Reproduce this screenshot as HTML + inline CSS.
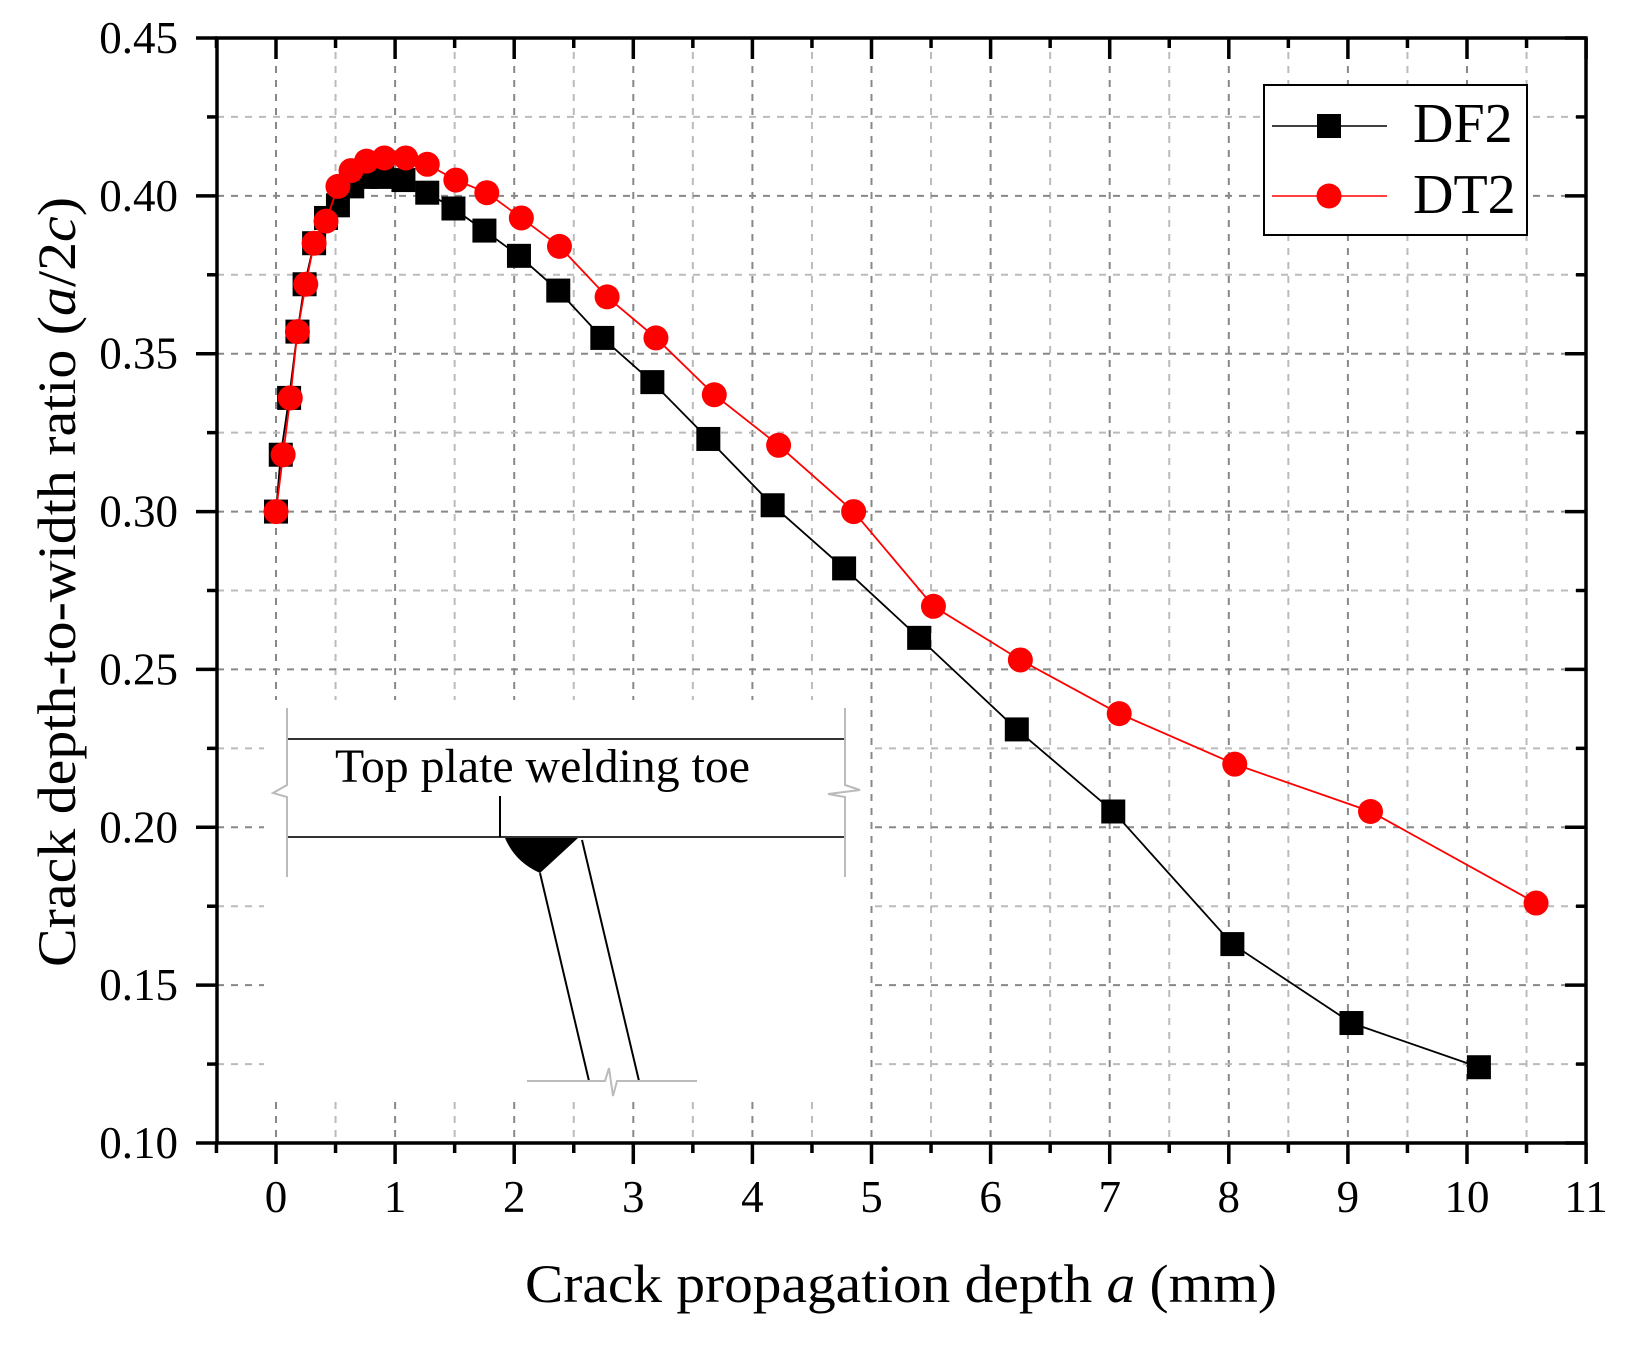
<!DOCTYPE html>
<html><head><meta charset="utf-8"><style>
html,body{margin:0;padding:0;background:#fff;}
svg{display:block;font-family:"Liberation Serif",serif;}
</style></head><body>
<svg id="chart" width="1630" height="1345" viewBox="0 0 1630 1345" xmlns="http://www.w3.org/2000/svg">
<g id="grid"></g>
<g id="inset">
  <rect x="264" y="700" width="606" height="397" fill="#fff"/>
  <line x1="287" y1="739" x2="845" y2="739" stroke="#333" stroke-width="2"/>
  <line x1="287" y1="837" x2="845" y2="837" stroke="#333" stroke-width="2"/>
  <polyline points="287,708 287,785 273,793 287,797 287,877" fill="none" stroke="#bbb" stroke-width="2"/>
  <polyline points="845,708 845,785 860,790 828,794 845,797 845,877" fill="none" stroke="#bbb" stroke-width="2"/>
  <text x="335" y="782" font-size="48" textLength="415" lengthAdjust="spacingAndGlyphs" fill="#000">Top plate welding toe</text>
  <line x1="500" y1="796" x2="500" y2="837" stroke="#000" stroke-width="2"/>
  <path d="M505,838 L578,838 L540,873 Q515,862 505,838 Z" fill="#000"/>
  <line x1="540" y1="873" x2="589" y2="1081" stroke="#000" stroke-width="2"/>
  <line x1="582" y1="840" x2="639" y2="1081" stroke="#000" stroke-width="2"/>
  <polyline points="527,1081 605,1081 609,1068 613,1096 617,1081 697,1081" fill="none" stroke="#bbb" stroke-width="2"/>
</g>
<g id="series"></g>
<g id="axes"></g>
<g id="legend">
  <rect x="1264" y="85" width="263" height="150" fill="#fff" stroke="#000" stroke-width="2"/>
  <line x1="1272" y1="126" x2="1387" y2="126" stroke="#000" stroke-width="1.5"/>
  <rect x="1317" y="114" width="24" height="24" fill="#000"/>
  <text x="1413" y="142" font-size="56" fill="#000">DF2</text>
  <line x1="1272" y1="196" x2="1387" y2="196" stroke="#f00" stroke-width="1.5"/>
  <circle cx="1329" cy="196" r="12.5" fill="#f00"/>
  <text x="1413" y="213" font-size="56" fill="#000">DT2</text>
</g>
<text x="901" y="1302" font-size="54" text-anchor="middle" textLength="752" lengthAdjust="spacingAndGlyphs">Crack propagation depth <tspan font-style="italic">a</tspan> (mm)</text>
<text transform="translate(75,582) rotate(-90)" font-size="54" text-anchor="middle" textLength="770" lengthAdjust="spacingAndGlyphs">Crack depth-to-width ratio (<tspan font-style="italic">a</tspan>/2<tspan font-style="italic">c</tspan>)</text>
</svg>
<script>
const xTicks = [0,1,2,3,4,5,6,7,8,9,10,11];
const yTicks = [0.10,0.15,0.20,0.25,0.30,0.35,0.40,0.45];
const yTickLabels = ["0.10","0.15","0.20","0.25","0.30","0.35","0.40","0.45"];
const df2X = [0,0.04,0.11,0.18,0.24,0.32,0.42,0.52,0.64,0.76,0.89,1.07,1.27,1.49,1.75,2.04,2.37,2.74,3.16,3.63,4.17,4.77,5.40,6.22,7.03,8.03,9.03,10.10];
const df2Y = [0.300,0.318,0.336,0.357,0.372,0.385,0.393,0.397,0.403,0.406,0.406,0.405,0.401,0.396,0.389,0.381,0.370,0.355,0.341,0.323,0.302,0.282,0.260,0.231,0.205,0.163,0.138,0.124];
const dt2X = [0,0.06,0.12,0.18,0.25,0.32,0.42,0.52,0.63,0.76,0.91,1.09,1.27,1.51,1.77,2.06,2.38,2.78,3.19,3.68,4.22,4.85,5.52,6.25,7.08,8.05,9.19,10.58];
const dt2Y = [0.300,0.318,0.336,0.357,0.372,0.385,0.392,0.403,0.408,0.411,0.412,0.412,0.410,0.405,0.401,0.393,0.384,0.368,0.355,0.337,0.321,0.300,0.270,0.253,0.236,0.220,0.205,0.176];

const NS="http://www.w3.org/2000/svg";
const L=217,R=1586,T=38,B=1143;
const X=v=>276+v*119.1;
const Y=v=>T+(0.45-v)/0.35*(B-T);
function mk(tag,attrs,parent){const e=document.createElementNS(NS,tag);for(const k in attrs)e.setAttribute(k,attrs[k]);parent.appendChild(e);return e;}
const grid=document.getElementById('grid'),axes=document.getElementById('axes'),series=document.getElementById('series');
for(let v=-0.5;v<=11.001;v+=0.5){
  const major=Math.abs(v-Math.round(v))<1e-6;
  if(v<-0.4||v>10.9)continue;
  const g=mk('line',{x1:X(v),x2:X(v),y1:T,y2:B,stroke:major?'#888':'#bbb','stroke-width':2,'stroke-dasharray':'7,7'},grid);
  
  
}
for(let v=0.125;v<0.449;v+=0.025){
  const major=Math.abs(v*20-Math.round(v*20))<1e-6;
  const g=mk('line',{x1:L,x2:R,y1:Y(v),y2:Y(v),stroke:major?'#888':'#bbb','stroke-width':2,'stroke-dasharray':'7,7'},grid);
  
  
}
function drawSeries(xs,ys,color,shape,name){
  const pts=xs.map((x,i)=>X(x)+','+Y(ys[i])).join(' ');
  const pl=mk('polyline',{points:pts,fill:'none',stroke:color,'stroke-width':1.8},series);
  
  
  xs.forEach((x,i)=>{
    let m;
    if(shape==='square'){m=mk('rect',{x:X(x)-12,y:Y(ys[i])-12,width:24,height:24,fill:color},series);}
    else{m=mk('circle',{cx:X(x),cy:Y(ys[i]),r:12.5,fill:color},series);}
    
    
  });
}
drawSeries(df2X,df2Y,'#000','square','df2');
drawSeries(dt2X,dt2Y,'#f00','circle','dt2');
const fr=mk('rect',{x:L,y:T,width:R-L,height:B-T,fill:'none',stroke:'#000','stroke-width':3.5},axes);


for(let v=-0.5;v<=11.001;v+=0.5){
  const major=Math.abs(v-Math.round(v))<1e-6;
  const len=major?21:10;
  const t1=mk('line',{x1:X(v),x2:X(v),y1:B,y2:B+len,stroke:'#000','stroke-width':3.5},axes);
  
  
  const t2=mk('line',{x1:X(v),x2:X(v),y1:T,y2:T+len,stroke:'#000','stroke-width':3.5},axes);
  
  
}
xTicks.forEach(v=>{
  const t=mk('text',{x:X(v),y:1212,'font-size':45,'text-anchor':'middle'},axes);
  t.textContent=String(v);
  
  
});
for(let v=0.10;v<=0.4501;v+=0.025){
  const major=Math.abs(v*20-Math.round(v*20))<1e-6;
  const len=major?21:10;
  const t1=mk('line',{x1:L-len,x2:L,y1:Y(v),y2:Y(v),stroke:'#000','stroke-width':3.5},axes);
  
  
  const t2=mk('line',{x1:R-len,x2:R,y1:Y(v),y2:Y(v),stroke:'#000','stroke-width':3.5},axes);
  
  
}
yTicks.forEach((v,i)=>{
  const t=mk('text',{x:178,y:Y(v)+15,'font-size':45,'text-anchor':'end'},axes);
  t.textContent=yTickLabels[i];
  
  
});
</script>
</body></html>
